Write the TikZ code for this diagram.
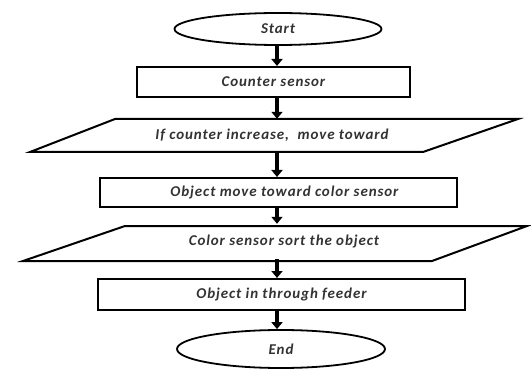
\documentclass[tikz,border=0pt]{standalone}
\usepackage{fontspec}
\setmainfont{Carlito}[LetterSpace=6]
\usetikzlibrary{shapes.geometric,arrows.meta}
\begin{document}
\begin{tikzpicture}[x=1pt,y=-1pt,
  box/.style={draw, line width=2pt, rectangle, inner sep=0pt, lbl},
  term/.style={draw, line width=1.8pt, ellipse, inner sep=0pt, lbl},
  lbl/.style={font=\fontsize{15}{17}\selectfont\bfseries\itshape, text=black!80},
  arr/.style={line width=3.5pt, -{Triangle[length=7pt,width=11pt]}},
  io/.style={line width=2pt, line join=miter}]
\useasboundingbox (0,0) rectangle (531,369);
\coordinate (ax) at (277,0);
% terminals and boxes
\node[term, minimum width=207pt, minimum height=32pt] (start) at (278,29) {Start};
\node[box, minimum width=273pt, minimum height=30pt] (counter) at (273.5,82) {Counter sensor};
\node[lbl, minimum height=33pt, inner sep=0pt] (p1) at (272,135.5) {If counter increase,\ \ move toward};
\draw[io] (115,119) -- (518,119) -- (423,152) -- (30,152) -- cycle;
\node[box, minimum width=357pt, minimum height=29pt] (obj) at (278.5,192.5) {\hspace{12pt}Object move toward color sensor};
\node[lbl, minimum height=35pt, inner sep=0pt] (p2) at (284,241.5) {Color sensor sort the object};
\draw[io] (125,226) -- (527,226) -- (432,261) -- (23,261) -- cycle;
\node[box, minimum width=367pt, minimum height=31pt] (feed) at (281.5,294.5) {Object in through feeder};
\node[term, minimum width=208pt, minimum height=38pt] (end) at (281,349) {End};
% connectors
\draw[arr] (start.south -| ax) -- (counter.north -| ax);
\draw[arr] (counter.south -| ax) -- (p1.north -| ax);
\draw[arr] (p1.south -| ax) -- (obj.north -| ax);
\draw[arr] (obj.south -| ax) -- (p2.north -| ax);
\draw[arr] (p2.south -| ax) -- (feed.north -| ax);
\draw[arr] (feed.south -| ax) -- (end.north -| ax);
\end{tikzpicture}
\end{document}
